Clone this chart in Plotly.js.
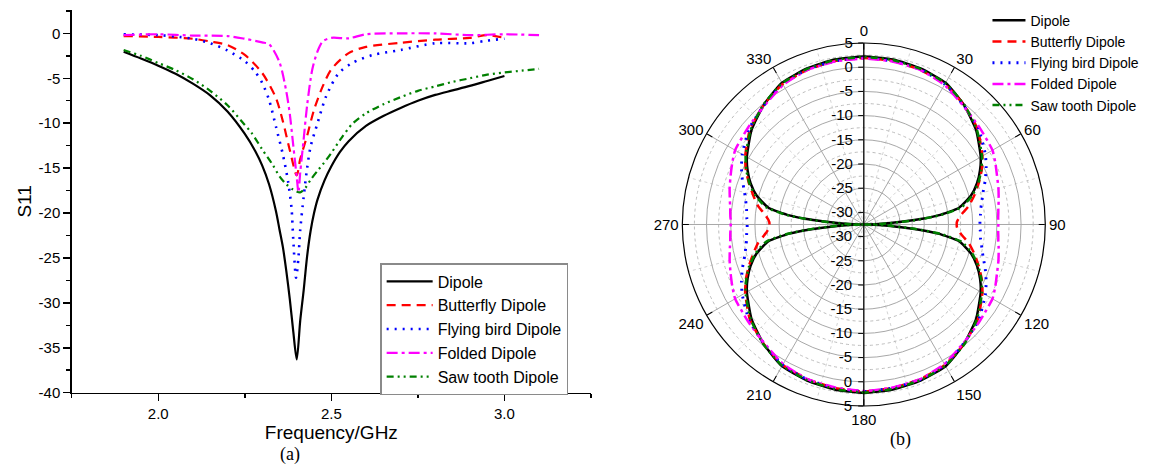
<!DOCTYPE html>
<html>
<head>
<meta charset="utf-8">
<script src="https://cdn.plot.ly/plotly-3.0.1.min.js"></script>
<style>html,body{margin:0;padding:0;background:#fff;}#chart{width:1159px;height:468px;}</style>
</head>
<body>
<div id="chart"></div>
<script>
// ---------- (a) S11 vs frequency ----------
const seriesNames = ['Dipole', 'Butterfly Dipole', 'Flying bird Dipole', 'Folded Dipole', 'Saw tooth Dipole'];

const dipoleF = [1.90, 1.95, 2.00, 2.05, 2.10, 2.15, 2.20, 2.25, 2.28, 2.30, 2.32, 2.34, 2.35, 2.36, 2.37, 2.38, 2.39, 2.40, 2.41, 2.42, 2.43, 2.44, 2.45, 2.46, 2.48, 2.50, 2.525, 2.55, 2.60, 2.65, 2.70, 2.75, 2.80, 2.85, 2.90, 2.95, 3.00];
const dipoleS = [-2.05, -2.8, -3.6, -4.5, -5.6, -6.9, -8.7, -11.2, -13.1, -14.7, -16.8, -19.8, -21.8, -23.8, -26.5, -29.6, -33.2, -36.3, -32.0, -28.6, -24.8, -22.0, -20.0, -18.5, -16.4, -14.8, -13.2, -12.0, -10.3, -9.2, -8.3, -7.5, -6.85, -6.35, -5.85, -5.3, -4.75];

const butterflyF = [1.90, 2.00, 2.10, 2.15, 2.20, 2.25, 2.30, 2.34, 2.36, 2.38, 2.40, 2.41, 2.43, 2.45, 2.475, 2.50, 2.55, 2.60, 2.70, 2.80, 2.90, 2.95, 3.00];
const butterflyS = [-0.3, -0.4, -0.6, -0.9, -1.3, -2.4, -4.4, -7.2, -9.8, -13.0, -15.8, -14.0, -11.4, -8.5, -5.9, -4.0, -2.2, -1.5, -1.05, -0.7, -0.5, -0.2, -0.5];

const birdF = [1.90, 2.00, 2.05, 2.10, 2.15, 2.20, 2.25, 2.28, 2.30, 2.32, 2.34, 2.36, 2.375, 2.385, 2.39, 2.398, 2.405, 2.41, 2.42, 2.43, 2.44, 2.46, 2.485, 2.52, 2.56, 2.62, 2.70, 2.80, 2.90, 2.95, 3.00];
const birdS = [-0.1, -0.2, -0.35, -0.6, -1.1, -1.9, -3.1, -4.3, -5.5, -7.4, -10.4, -13.5, -16.5, -19.5, -23.0, -27.2, -24.9, -21.9, -18.2, -15.0, -12.6, -10.0, -7.0, -4.5, -3.3, -2.4, -1.85, -1.1, -1.1, -0.8, -0.6];

const foldedF = [1.90, 2.00, 2.10, 2.20, 2.25, 2.30, 2.32, 2.35, 2.37, 2.38, 2.39, 2.40, 2.405, 2.41, 2.42, 2.43, 2.445, 2.46, 2.475, 2.50, 2.55, 2.60, 2.70, 2.80, 2.90, 3.00, 3.10];
const foldedS = [-0.2, -0.1, -0.25, -0.3, -0.6, -1.0, -1.2, -3.2, -6.5, -9.0, -12.5, -16.0, -17.7, -15.5, -11.8, -8.0, -4.0, -2.0, -0.9, -0.5, -0.55, -0.1, 0.0, 0.0, -0.2, -0.1, -0.2];

const sawF = [1.90, 1.95, 2.00, 2.05, 2.10, 2.15, 2.20, 2.25, 2.27, 2.30, 2.33, 2.35, 2.37, 2.39, 2.41, 2.425, 2.44, 2.46, 2.475, 2.50, 2.53, 2.56, 2.60, 2.65, 2.70, 2.75, 2.80, 2.85, 2.90, 2.95, 3.00, 3.05, 3.10];
const sawS = [-1.85, -2.5, -3.3, -4.1, -5.1, -6.4, -8.0, -10.2, -11.1, -12.9, -14.6, -15.9, -16.8, -17.4, -17.7, -17.2, -16.3, -15.3, -14.6, -13.3, -11.6, -10.1, -8.9, -7.9, -7.1, -6.4, -5.9, -5.4, -5.0, -4.6, -4.35, -4.15, -3.95];

const xTickVals = [2.0, 2.5, 3.0];
const xTickText = ['2.0', '2.5', '3.0'];
const yTickVals = [-40, -35, -30, -25, -20, -15, -10, -5, 0];
const yTickText = ['-40', '-35', '-30', '-25', '-20', '-15', '-10', '-5', '0'];

// ---------- (b) radiation pattern ----------
const theta = [0, 10, 20, 30, 40, 50, 60, 65, 70, 75, 80, 83, 85, 87, 88, 89, 90, 91, 92, 93, 95, 97, 100, 105, 110, 115, 120, 130, 140, 150, 160, 170,
               180, 190, 200, 210, 220, 230, 240, 245, 250, 255, 260, 263, 265, 267, 268, 269, 270, 271, 272, 273, 275, 277, 280, 285, 290, 295, 300, 310, 320, 330, 340, 350, 360];

const dipoleR = [2.2, 2.1, 1.8, 1.3, -0.3, -2.2, -4.6, -6.0, -7.6, -9.6, -12.5, -17, -22, -27, -29.5, -31.5, -32.5, -31.5, -29.5, -27, -22, -17, -12.5, -9.6, -7.6, -6.0, -4.6, -2.2, -0.3, 1.3, 1.8, 2.1,
                 2.3, 2.1, 1.8, 1.3, -0.3, -2.2, -4.6, -6.0, -7.6, -9.6, -12.5, -17, -22, -27, -29.5, -31.5, -32.5, -31.5, -29.5, -27, -22, -17, -12.5, -9.6, -7.6, -6.0, -4.6, -2.2, -0.3, 1.3, 1.8, 2.1, 2.2];

const butterflyR = [1.9, 1.8, 1.5, 1.0, -0.3, -1.8, -4.2, -5.6, -7.2, -8.8, -10.5, -11.8, -12.5, -13.0, -13.2, -13.3, -13.3, -13.3, -13.2, -13.0, -12.5, -11.8, -10.5, -8.8, -7.2, -5.6, -4.2, -1.8, -0.3, 1.0, 1.5, 1.8,
                    2.0, 1.8, 1.5, 1.0, -0.3, -1.8, -4.2, -5.6, -7.2, -8.8, -10.3, -11.5, -12.2, -12.7, -12.9, -13.0, -13.0, -13.0, -12.9, -12.7, -12.2, -11.5, -10.3, -8.8, -7.2, -5.6, -4.2, -1.8, -0.3, 1.0, 1.5, 1.8, 1.9];

const birdR = [1.9, 1.8, 1.6, 1.0, -0.4, -1.6, -3.5, -4.6, -5.8, -7.0, -7.8, -8.2, -8.3, -8.4, -8.5, -8.5, -8.5, -8.5, -8.5, -8.4, -8.3, -8.2, -7.8, -7.0, -5.8, -4.6, -3.5, -1.6, -0.4, 1.0, 1.6, 1.8,
               2.0, 1.8, 1.6, 1.0, -0.4, -1.6, -3.5, -4.6, -5.8, -7.0, -7.8, -8.1, -8.2, -8.3, -8.4, -8.4, -8.4, -8.4, -8.4, -8.3, -8.2, -8.1, -7.8, -7.0, -5.8, -4.6, -3.5, -1.6, -0.4, 1.0, 1.6, 1.8, 1.9];

const foldedR = [1.8, 1.7, 1.5, 0.8, -0.5, -1.3, -1.8, -2.5, -3.2, -3.7, -4.2, -4.5, -4.6, -4.7, -4.7, -4.7, -4.7, -4.7, -4.7, -4.7, -4.6, -4.5, -4.2, -3.7, -3.2, -2.5, -1.8, -1.3, -0.5, 0.8, 1.5, 1.7,
                 1.9, 1.7, 1.5, 0.8, -0.5, -1.3, -1.8, -2.5, -3.2, -3.8, -4.4, -4.7, -4.8, -4.9, -5.0, -5.0, -5.0, -5.0, -5.0, -4.9, -4.8, -4.7, -4.4, -3.8, -3.2, -2.5, -1.8, -1.3, -0.5, 0.8, 1.5, 1.7, 1.8];

const sawR = [2.1, 2.0, 1.7, 1.2, -0.2, -2.0, -4.3, -5.7, -7.3, -9.3, -12.0, -16.5, -21.5, -26.5, -29, -31, -32.5, -31, -29, -26.5, -21.5, -16.5, -12.0, -9.3, -7.3, -5.7, -4.3, -2.0, -0.2, 1.2, 1.7, 2.0,
              2.2, 2.0, 1.7, 1.2, -0.2, -2.0, -4.3, -5.7, -7.3, -9.3, -12.0, -16.5, -21.5, -26.5, -29, -31, -32.5, -31, -29, -26.5, -21.5, -16.5, -12.0, -9.3, -7.3, -5.7, -4.3, -2.0, -0.2, 1.2, 1.7, 2.0, 2.1];

const angTickVals = [0, 30, 60, 90, 120, 150, 180, 210, 240, 270, 300, 330];
const angTickText = ['0', '30', '60', '90', '120', '150', '180', '210', '240', '270', '300', '330'];
const angMinorVals = [15, 45, 75, 105, 135, 165, 195, 225, 255, 285, 315, 345];
const radTickVals = [-30, -25, -20, -15, -10, -5, 0, 5];
const radTickText = ['-30', '-25', '-20', '-15', '-10', '-5', '0', '5'];
const radMinorVals = [-27.5, -22.5, -17.5, -12.5, -7.5, -2.5, 2.5];
const radRange = [-32.5, 5];

// ---------- styles ----------
const colors = ['#000000', '#ff0000', '#0000ff', '#ff00ff', '#008000'];
const dashes = ['solid', '9px,6px', '2px,6px', '11px,4px,3px,4px', '7px,4px,2px,4px,2px,4px'];
const widths = [2.2, 2.2, 2.6, 2.2, 2.2];

const cartX = [dipoleF, butterflyF, birdF, foldedF, sawF];
const cartY = [dipoleS, butterflyS, birdS, foldedS, sawS];
const polR = [dipoleR, butterflyR, birdR, foldedR, sawR];

const traces = [];
for (let i = 0; i < 5; i++) {
  traces.push({
    type: 'scatter', mode: 'lines', x: cartX[i], y: cartY[i], name: seriesNames[i],
    line: {color: colors[i], dash: dashes[i], width: widths[i], shape: 'spline', smoothing: 0.8},
    xaxis: 'x', yaxis: 'y', legend: 'legend', hoverinfo: 'skip'
  });
}
traces.push({type: 'scatterpolar', mode: 'lines', r: dipoleR, theta: theta, subplot: 'polar', showlegend: false, opacity: 0, hoverinfo: 'skip'});
for (let i = 0; i < 5; i++) {
  traces.push({
    type: 'scatterpolar', mode: 'lines', r: polR[i], theta: theta, name: seriesNames[i],
    line: {color: colors[i], dash: dashes[i], width: widths[i] + 0.3, shape: 'spline', smoothing: 0.5},
    subplot: 'polar2', legend: 'legend2', hoverinfo: 'skip'
  });
}
traces.push({type: 'scatterpolar', mode: 'lines', r: dipoleR, theta: theta, subplot: 'polar3', showlegend: false, opacity: 0, hoverinfo: 'skip'});

const FONT = 'Liberation Sans, Arial, sans-serif';
const polDomain = {x: [0.5887, 0.9019], y: [0.1325, 0.9081]};

const layout = {
  width: 1159, height: 468,
  margin: {l: 0, r: 0, t: 0, b: 0},
  paper_bgcolor: '#ffffff', plot_bgcolor: '#ffffff',
  font: {family: FONT, color: '#000', size: 15},
  xaxis: {
    domain: [0.0619, 0.5099], range: [1.75, 3.25],
    tickmode: 'array', tickvals: xTickVals, ticktext: xTickText,
    ticks: 'outside', ticklen: 7, tickwidth: 1.5, tickcolor: '#000',
    minor: {dtick: 0.25, tick0: 2.0, ticks: 'outside', ticklen: 4, tickwidth: 1.5, tickcolor: '#000', showgrid: false},
    showline: true, linecolor: '#000', linewidth: 1.5, showgrid: false, zeroline: false,
    tickfont: {size: 15, family: FONT},
    title: {text: 'Frequency/GHz', font: {size: 19, family: FONT}, standoff: 0},
    anchor: 'y', fixedrange: true
  },
  yaxis: {
    domain: [0.1609, 0.9786], range: [-40, 2.6],
    tickmode: 'array', tickvals: yTickVals, ticktext: yTickText,
    ticks: 'outside', ticklen: 7, tickwidth: 1.5, tickcolor: '#000',
    minor: {dtick: 2.5, tick0: 0, ticks: 'outside', ticklen: 4, tickwidth: 1.5, tickcolor: '#000', showgrid: false},
    showline: true, linecolor: '#000', linewidth: 1.5, showgrid: false, zeroline: false,
    tickfont: {size: 15, family: FONT},
    title: {text: 'S11', font: {size: 19, family: FONT}, standoff: 2},
    anchor: 'x', fixedrange: true
  },
  polar: {
    domain: polDomain, bgcolor: '#ffffff',
    angularaxis: {rotation: 90, direction: 'clockwise', tickmode: 'array', tickvals: angMinorVals,
      showticklabels: false, ticks: '', showline: false, showgrid: true, gridcolor: '#d4d4d4', griddash: 'dot', gridwidth: 1},
    radialaxis: {range: radRange, tickmode: 'array', tickvals: radMinorVals, showticklabels: false, ticks: '',
      showline: false, showgrid: true, gridcolor: '#bdbdbd', griddash: 'dot', gridwidth: 1}
  },
  polar2: {
    domain: polDomain, bgcolor: 'rgba(0,0,0,0)',
    angularaxis: {rotation: 90, direction: 'clockwise', tickmode: 'array', tickvals: angTickVals, ticktext: angTickText,
      ticks: 'inside', ticklen: 6, tickcolor: '#000', showline: true, linecolor: '#000', linewidth: 1.2,
      showgrid: true, gridcolor: '#a8a8a8', gridwidth: 1, tickfont: {size: 15, family: FONT}},
    radialaxis: {range: radRange, angle: 90, side: 'counterclockwise', tickmode: 'array', tickvals: radTickVals, ticktext: radTickText,
      ticks: 'outside', ticklen: 5, tickcolor: '#000', showline: true, linecolor: '#000', linewidth: 1.2,
      showgrid: true, gridcolor: '#a8a8a8', gridwidth: 1, tickfont: {size: 15, family: FONT}, tickangle: 90}
  },
  polar3: {
    domain: polDomain, bgcolor: 'rgba(0,0,0,0)',
    angularaxis: {rotation: 90, direction: 'clockwise', visible: false, showgrid: false, showline: false, ticks: '', showticklabels: false},
    radialaxis: {range: radRange, angle: 270, side: 'clockwise', tickmode: 'array', tickvals: radTickVals, ticktext: radTickText,
      ticks: 'outside', ticklen: 5, tickcolor: '#000', showline: true, linecolor: '#000', linewidth: 1.2,
      showgrid: false, tickfont: {size: 15, family: FONT}, tickangle: -90}
  },
  legend: {
    x: 0.328, y: 0.438, xanchor: 'left', yanchor: 'top',
    bordercolor: '#8a8a8a', borderwidth: 1.5, bgcolor: '#ffffff',
    font: {size: 16, family: FONT}, tracegroupgap: 0, itemwidth: 46
  },
  legend2: {
    x: 0.852, y: 0.99, xanchor: 'left', yanchor: 'top',
    borderwidth: 0, bgcolor: 'rgba(0,0,0,0)',
    font: {size: 14, family: FONT}, tracegroupgap: 0, itemwidth: 33
  },
  annotations: [
    {text: '(a)', xref: 'paper', yref: 'paper', x: 0.2399, y: 0.028, yanchor: 'middle', showarrow: false, font: {family: 'Liberation Serif, Times New Roman, serif', size: 18}},
    {text: '(b)', xref: 'paper', yref: 'paper', x: 0.7877, y: 0.060, yanchor: 'middle', showarrow: false, font: {family: 'Liberation Serif, Times New Roman, serif', size: 18}}
  ]
};

Plotly.newPlot('chart', traces, layout, {displayModeBar: false, staticPlot: true});
</script>
</body>
</html>
